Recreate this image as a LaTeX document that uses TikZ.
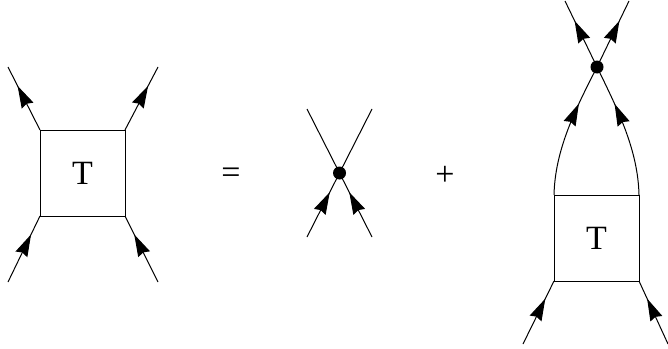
\documentclass[tikz,border=0pt]{standalone}
\usepackage{fontspec}
\setmainfont{Liberation Serif}
\usetikzlibrary{arrows.meta,decorations.markings}
\begin{document}
\begin{tikzpicture}[x=0.5pt,y=-0.5pt,line width=0.5pt,
  tbox/.style={draw,minimum width=42.5pt,minimum height=43pt,inner sep=0pt,outer sep=0pt,font=\fontsize{17}{20}\selectfont},
  vdot/.style={circle,fill,minimum size=6.5pt,inner sep=0pt},
  sym/.style={font=\fontsize{17}{20}\selectfont},
  midarr/.style={postaction={decorate},decoration={markings,mark=at position #1 with {\arrow{Stealth[length=11pt,width=6.5pt,inset=1pt]}}}}]
\useasboundingbox (0,0) rectangle (668,348);
% left diagram
\node[tbox] (b1) at (82.5,173) {T};
\coordinate (l1tl) at (8,67);
\coordinate (l1tr) at (158,67);
\coordinate (l1bl) at (8,282);
\coordinate (l1br) at (158,282);
\draw[midarr=0.7] (b1.north west) -- (l1tl);
\draw[midarr=0.7] (b1.north east) -- (l1tr);
\draw[midarr=0.72] (l1bl) -- (b1.south west);
\draw[midarr=0.72] (l1br) -- (b1.south east);
% symbols
\node[sym] (eq) at (231,176) {=};
\node[sym] (pl) at (445,176) {+};
% middle cross
\node[vdot] (d1) at (339.5,173) {};
\coordinate (m1tl) at (307,109);
\coordinate (m1tr) at (372,109);
\coordinate (m1bl) at (307,237);
\coordinate (m1br) at (372,237);
\draw (d1.center) -- (m1tl);
\draw (d1.center) -- (m1tr);
\draw[midarr=0.7] (m1bl) -- (d1.center);
\draw[midarr=0.7] (m1br) -- (d1.center);
% right diagram
\node[tbox] (b2) at (596.5,238) {T};
\node[vdot] (d2) at (597,67) {};
\coordinate (r2tl) at (565,1);
\coordinate (r2tr) at (629,1);
\coordinate (r2bl) at (523,344);
\coordinate (r2br) at (668,344);
\draw[midarr=0.7] (b2.north west) .. controls (555,150) and (575,110) .. (d2.center);
\draw[midarr=0.7] (b2.north east) .. controls (638,150) and (618,110) .. (d2.center);
\draw[midarr=0.7] (d2.center) -- (r2tl);
\draw[midarr=0.7] (d2.center) -- (r2tr);
\draw[midarr=0.72] (r2bl) -- (b2.south west);
\draw[midarr=0.72] (r2br) -- (b2.south east);
\end{tikzpicture}
\end{document}
